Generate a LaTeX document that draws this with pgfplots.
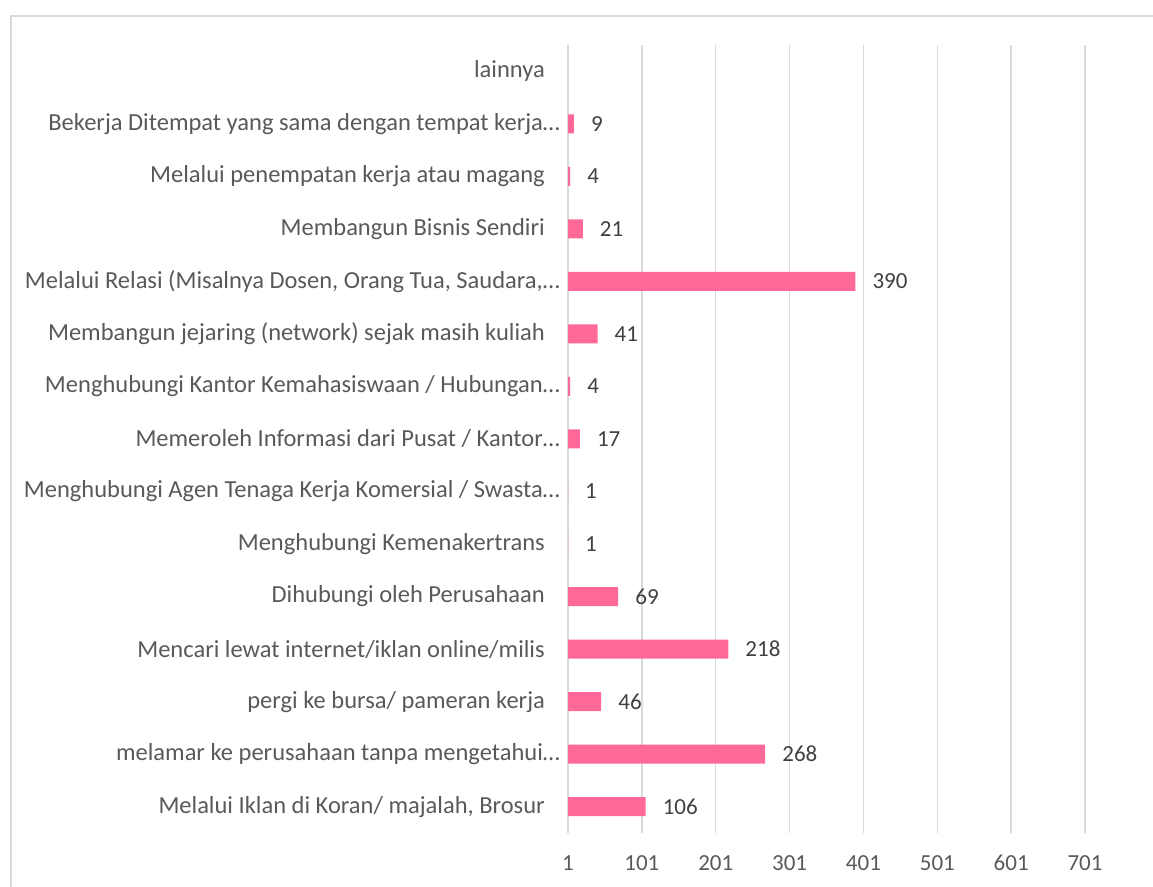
\documentclass[border=0pt]{standalone}
\usepackage{pgfplots}
\pgfplotsset{compat=1.18}
\usepackage{fontspec}
\setmainfont{Carlito}
\definecolor{barpink}{RGB}{255,105,152}
\definecolor{gridgray}{RGB}{217,217,217}
\definecolor{labgray}{RGB}{89,89,89}
\definecolor{valgray}{RGB}{64,64,64}
\newcommand{\tr}{\kern-15pt}
\begin{document}
\begin{tikzpicture}[x=1pt,y=1pt]
\draw[gridgray, line width=1.5pt] (11,-10) -- (11,870) -- (1170,870);
\begin{axis}[
  at={(568pt,53pt)}, anchor=south west,
  scale only axis, width=554pt, height=788pt,
  xmin=1, xmax=751, ymin=-0.5, ymax=14.5,
  xtick={1,101,201,301,401,501,601,701},
  ytick={0,...,14},
  yticklabels={
    {Melalui Iklan di Koran/ majalah, Brosur},
    {melamar ke perusahaan tanpa mengetahui…\tr},
    {pergi ke bursa/ pameran kerja},
    {Mencari lewat internet/iklan online/milis},
    {Dihubungi oleh Perusahaan},
    {Menghubungi Kemenakertrans},
    {Menghubungi Agen Tenaga Kerja Komersial / Swasta…\tr},
    {Memeroleh Informasi dari Pusat / Kantor…\tr},
    {Menghubungi Kantor Kemahasiswaan / Hubungan…\tr},
    {Membangun jejaring (network) sejak masih kuliah},
    {Melalui Relasi (Misalnya Dosen, Orang Tua, Saudara,…\tr},
    {Membangun Bisnis Sendiri},
    {Melalui penempatan kerja atau magang},
    {Bekerja Ditempat yang sama dengan tempat kerja…\tr},
    {lainnya}},
  xbar, bar width=19pt,
  axis line style={draw=none},
  major tick length=0pt,
  xmajorgrids, grid style={gridgray, line width=1.5pt},
  /pgf/number format/assume math mode=true,
  xticklabel style={font=\fontsize{23}{27}\selectfont, text=labgray, anchor=north, inner sep=0pt, yshift=-22pt},
  yticklabel style={font=\fontsize{24.5}{29}\selectfont, text=labgray, anchor=east, inner sep=0pt, xshift=-23pt},
  nodes near coords,
  nodes near coords style={font=\fontsize{23}{27}\selectfont, text=valgray, anchor=west, inner sep=0pt, xshift=17pt},
]
\addplot[fill=barpink, draw=none] coordinates {
  (106,0) (268,1) (46,2) (218,3) (69,4) (1,5) (1,6) (17,7) (4,8) (41,9) (390,10) (21,11) (4,12) (9,13)
};
\end{axis}
\pgfresetboundingbox
\path[use as bounding box] (0,0) rectangle (1153,886);
\end{tikzpicture}
\end{document}
